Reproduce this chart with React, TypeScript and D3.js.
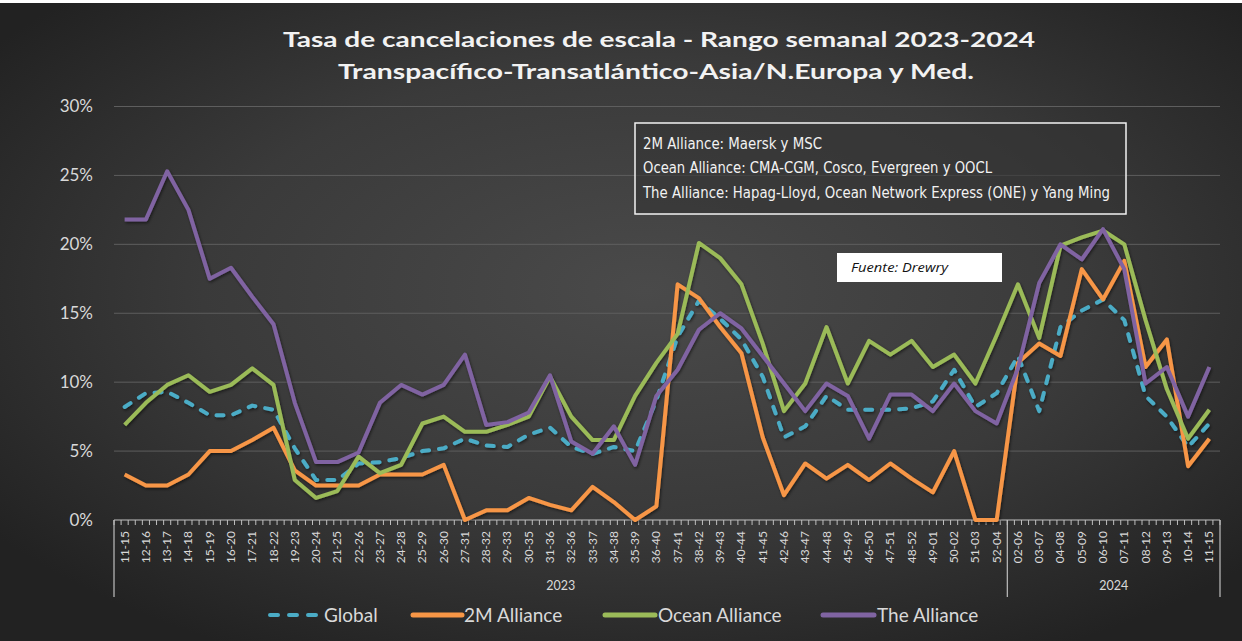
import React from 'react';
import * as d3 from 'd3';

const categories2023 = [
  '11-15', '12-16', '13-17', '14-18', '15-19', '16-20', '17-21', '18-22', '19-23', '20-24',
  '21-25', '22-26', '23-27', '24-28', '25-29', '26-30', '27-31', '28-32', '29-33', '30-35',
  '31-36', '32-36', '33-37', '34-38', '35-39', '36-40', '37-41', '38-42', '39-43', '40-44',
  '41-45', '42-46', '43-47', '44-48', '45-49', '46-50', '47-51', '48-52', '49-01', '50-02',
  '51-03', '52-04',
];
const categories2024 = ['02-06', '03-07', '04-08', '05-09', '06-10', '07-11', '08-12', '09-13', '10-14', '11-15'];
const years = ['2023', '2024'];

const globalValues = [
  8.2, 9.2, 9.3, 8.5, 7.6, 7.6, 8.3, 8.0, 5.2, 2.9,
  2.9, 4.1, 4.2, 4.5, 5.0, 5.2, 5.9, 5.4, 5.3, 6.2,
  6.7, 5.3, 4.8, 5.3, 5.0, 8.7, 13.3, 15.9, 14.6, 13.1,
  10.4, 6.0, 6.8, 9.0, 8.0, 8.0, 8.0, 8.1, 8.6, 10.9,
  8.2, 9.2, 11.9, 7.9, 14.0, 15.2, 16.0, 14.5, 9.0, 7.5,
  5.3, 7.0,
];
const m2Values = [
  3.3, 2.5, 2.5, 3.3, 5.0, 5.0, 5.8, 6.7, 3.6, 2.5,
  2.5, 2.5, 3.3, 3.3, 3.3, 4.0, 0.0, 0.7, 0.7, 1.6,
  1.1, 0.7, 2.4, 1.3, 0.0, 1.0, 17.1, 16.1, 14.0, 12.1,
  6.0, 1.8, 4.1, 3.0, 4.0, 2.9, 4.1, 3.0, 2.0, 5.0,
  0.0, 0.0, 11.4, 12.8, 11.9, 18.2, 16.0, 18.8, 11.1, 13.1,
  3.9, 5.9,
];
const oceanValues = [
  6.9, 8.5, 9.8, 10.5, 9.3, 9.8, 11.0, 9.8, 2.9, 1.6,
  2.1, 4.6, 3.4, 4.0, 7.0, 7.5, 6.4, 6.4, 6.9, 7.5,
  10.4, 7.5, 5.8, 5.8, 9.0, 11.4, 13.5, 20.1, 19.0, 17.1,
  12.8, 7.9, 9.9, 14.0, 9.9, 13.0, 12.0, 13.0, 11.1, 12.0,
  9.9, 13.4, 17.1, 13.2, 19.9, 20.5, 21.0, 20.0, 14.5, 9.5,
  5.9, 8.0,
];
const theAllianceValues = [
  21.8, 21.8, 25.3, 22.5, 17.5, 18.3, 16.2, 14.2, 8.5, 4.2,
  4.2, 4.9, 8.5, 9.8, 9.1, 9.8, 12.0, 6.9, 7.1, 7.8,
  10.5, 5.7, 4.8, 6.8, 4.0, 9.0, 10.9, 13.8, 15.0, 13.9,
  11.9, 9.9, 7.9, 9.9, 9.0, 5.9, 9.1, 9.1, 7.9, 9.9,
  7.9, 7.0, 11.0, 17.2, 20.0, 18.9, 21.1, 18.2, 9.9, 11.1,
  7.5, 11.1,
];
const yTicks = [0, 5, 10, 15, 20, 25, 30];
const seriesNames = ['Global', '2M Alliance', 'Ocean Alliance', 'The Alliance'];
const seriesColors = ['#4BACC6', '#F79646', '#9BBB59', '#8064A2'];

const titleLines = [
  'Tasa de cancelaciones de escala - Rango semanal 2023-2024',
  'Transpacífico-Transatlántico-Asia/N.Europa  y Med.',
];
const infoLines = [
  '2M Alliance:  Maersk y MSC',
  'Ocean Alliance: CMA-CGM, Cosco, Evergreen  y OOCL',
  'The Alliance: Hapag-Lloyd, Ocean Network Express (ONE) y Yang Ming',
];
const sourceText = 'Fuente: Drewry';

export default function App() {
  const W = 1242;
  const H = 641;
  const categories = [...categories2023, ...categories2024];
  const idx = d3.range(categories.length);
  const seriesValues = [globalValues, m2Values, oceanValues, theAllianceValues];

  const left = 114;
  const right = 1220;
  const x = d3.scaleBand<number>().domain(idx).range([left, right]).padding(0);
  const bw = x.bandwidth();
  const cx = (i: number) => (x(i) as number) + bw / 2;
  const y = d3.scaleLinear().domain([0, 30]).range([520, 106.5]);

  const lineGen = d3
    .line<number>()
    .x((_, i) => cx(i))
    .y((d) => y(d));

  const labelColor = '#d9d9d9';
  const font = 'Lato, "Open Sans", sans-serif';

  const ticks: number[] = [];
  for (let i = 0; i <= categories.length * 3; i++) ticks.push(left + (i * bw) / 3);

  const split = x(categories2023.length) as number;
  const yearSpans = [
    { label: years[0], x0: left, x1: split },
    { label: years[1], x0: split, x1: right },
  ];

  const legendItems = [
    { x0: 268, x1: 320, tx: 324 },
    { x0: 413, x1: 462, tx: 464 },
    { x0: 605, x1: 655, tx: 658 },
    { x0: 823, x1: 874, tx: 877 },
  ];

  return (
    <svg
      width={W}
      height={H}
      style={{ position: 'absolute', left: 0, top: 0, display: 'block' }}
      xmlns="http://www.w3.org/2000/svg"
    >
      <defs>
        <radialGradient id="bg" cx="52%" cy="45%" r="65%">
          <stop offset="0%" stopColor="#4a4a4a" />
          <stop offset="55%" stopColor="#3a3a3a" />
          <stop offset="100%" stopColor="#222222" />
        </radialGradient>
        <filter id="shadow" x="-5%" y="-5%" width="110%" height="110%">
          <feDropShadow dx="1" dy="1.5" stdDeviation="1.5" floodColor="#000" floodOpacity="0.55" />
        </filter>
      </defs>
      <rect x={0} y={0} width={W} height={H} fill="#ffffff" />
      <rect x={0} y={3} width={W} height={H - 3} fill="url(#bg)" />

      {/* Title */}
      <g fill="#f2f2f2" fontFamily={font} fontWeight="bold" fontSize={21} textAnchor="middle">
        <text x={659} y={47} textLength={752} lengthAdjust="spacingAndGlyphs">
          {titleLines[0]}
        </text>
        <text x={656} y={79} textLength={636} lengthAdjust="spacingAndGlyphs">
          {titleLines[1]}
        </text>
      </g>

      {/* Gridlines */}
      {yTicks.slice(1).map((t) => (
        <line key={t} x1={left} x2={right} y1={y(t)} y2={y(t)} stroke="#5e5e5e" strokeWidth={1} />
      ))}

      {/* Y labels */}
      {yTicks.map((t) => (
        <text
          key={t}
          x={93}
          y={y(t)}
          dy="0.35em"
          textAnchor="end"
          fill={labelColor}
          fontFamily={font}
          fontSize={17}
        >
          {`${t}%`}
        </text>
      ))}

      {/* X axis */}
      <line x1={left} x2={right} y1={520} y2={520} stroke="#bfbfbf" strokeWidth={1.2} />
      {ticks.map((t, i) => (
        <line key={i} x1={t} x2={t} y1={520} y2={525} stroke="#bfbfbf" strokeWidth={1} />
      ))}
      {[left, split, right].map((v, i) => (
        <line key={i} x1={v} x2={v} y1={520} y2={597} stroke="#bfbfbf" strokeWidth={1.2} />
      ))}
      {idx.map((i) => (
        <text
          key={i}
          transform={`translate(${cx(i) + 4},${531}) rotate(-90)`}
          textAnchor="end"
          fill={labelColor}
          fontFamily={font}
          fontSize={12}
        >
          {categories[i]}
        </text>
      ))}
      {yearSpans.map((s) => (
        <text
          key={s.label}
          x={(s.x0 + s.x1) / 2}
          y={590}
          textAnchor="middle"
          fill={labelColor}
          fontFamily={font}
          fontSize={12.5}
        >
          {s.label}
        </text>
      ))}

      {/* Series */}
      <g filter="url(#shadow)">
        {seriesValues.map((vals, si) => (
          <path
            key={si}
            d={lineGen(vals) || ''}
            fill="none"
            stroke={seriesColors[si]}
            strokeWidth={4}
            strokeLinejoin="round"
            strokeLinecap={si === 0 ? 'round' : 'butt'}
            strokeDasharray={si === 0 ? '7 10' : undefined}
          />
        ))}
      </g>

      {/* Info box */}
      <rect x={635} y={123} width={491} height={91} fill="#333333" fillOpacity={0.6} stroke="#f2f2f2" strokeWidth={1.5} />
      <g fill="#f2f2f2" fontFamily='"DejaVu Sans Condensed", "DejaVu Sans", sans-serif' fontStretch="condensed" fontSize={15}>
        <text x={643} y={149} textLength={179} lengthAdjust="spacingAndGlyphs">
          {infoLines[0]}
        </text>
        <text x={643} y={173} textLength={349} lengthAdjust="spacingAndGlyphs">
          {infoLines[1]}
        </text>
        <text x={643} y={198} textLength={467} lengthAdjust="spacingAndGlyphs">
          {infoLines[2]}
        </text>
      </g>

      {/* Source box */}
      <rect x={837} y={253} width={165} height={29} fill="#ffffff" />
      <text
        x={851}
        y={272}
        fill="#111"
        fontFamily='"Open Sans", sans-serif'
        fontStyle="italic"
        fontSize={12.5}
        textLength={97}
        lengthAdjust="spacingAndGlyphs"
      >
        {sourceText}
      </text>

      {/* Legend */}
      {legendItems.map((l, i) => (
        <g key={i}>
          <line
            x1={l.x0 + (i === 0 ? 2 : 0)}
            x2={l.x1}
            y1={615}
            y2={615}
            stroke={seriesColors[i]}
            strokeWidth={i === 0 ? 4 : 5}
            strokeLinecap="round"
            strokeDasharray={i === 0 ? '8 11' : undefined}
          />
          <text x={l.tx} y={621.5} fill={labelColor} fontFamily={font} fontSize={19}>
            {seriesNames[i]}
          </text>
        </g>
      ))}
    </svg>
  );
}
